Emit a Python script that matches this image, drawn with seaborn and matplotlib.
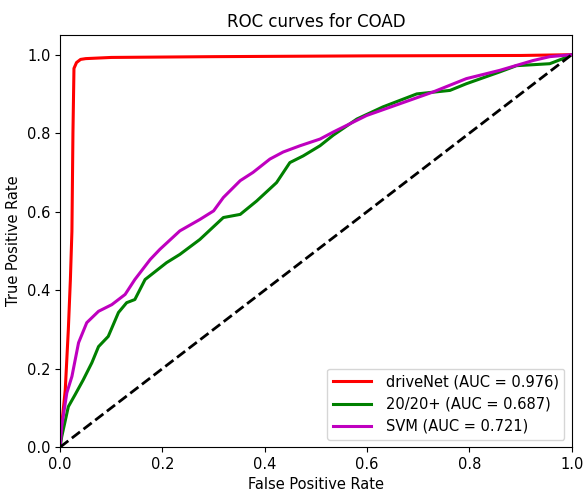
import pandas as pd
import seaborn as sns
import matplotlib
matplotlib.use('Agg')
import matplotlib.pyplot as plt

# ROC points
drivenet_fpr = [0.0, 0.002, 0.010, 0.016, 0.020, 0.023, 0.025, 0.027, 0.032, 0.04, 0.05, 0.1, 0.3, 0.6, 0.9, 1.0]
drivenet_tpr = [0.0, 0.043, 0.146, 0.30, 0.427, 0.55, 0.80, 0.965, 0.980, 0.988, 0.990, 0.993, 0.995, 0.997, 0.998, 1.0]

tt_fpr = [0.0, 0.003, 0.016, 0.029, 0.045, 0.062, 0.075, 0.094, 0.114, 0.13, 0.146, 0.166,
          0.208, 0.234, 0.273, 0.319, 0.352, 0.384, 0.423, 0.449, 0.475, 0.508, 0.534,
          0.58, 0.631, 0.697, 0.762, 0.794, 0.859, 0.892, 0.957, 0.983, 1.0]
tt_tpr = [0.0, 0.026, 0.103, 0.133, 0.171, 0.215, 0.256, 0.282, 0.343, 0.368, 0.376, 0.427,
          0.47, 0.491, 0.529, 0.585, 0.593, 0.627, 0.674, 0.725, 0.742, 0.768, 0.795,
          0.836, 0.867, 0.90, 0.909, 0.926, 0.956, 0.972, 0.977, 0.99, 1.0]

svm_fpr = [0.0, 0.003, 0.013, 0.023, 0.036, 0.052, 0.075, 0.101, 0.127, 0.146, 0.176, 0.195,
           0.234, 0.273, 0.3, 0.319, 0.352, 0.377, 0.41, 0.436, 0.469, 0.508, 0.534,
           0.599, 0.664, 0.729, 0.794, 0.859, 0.924, 0.957, 1.0]
svm_tpr = [0.0, 0.052, 0.138, 0.18, 0.266, 0.317, 0.346, 0.363, 0.389, 0.427, 0.478, 0.504,
           0.551, 0.58, 0.602, 0.636, 0.679, 0.70, 0.734, 0.752, 0.768, 0.785, 0.803,
           0.845, 0.875, 0.905, 0.939, 0.96, 0.985, 0.995, 1.0]

labels = ['driveNet (AUC = 0.976)', '20/20+ (AUC = 0.687)', 'SVM (AUC = 0.721)']
colors = ['red', 'green', 'm']

frames = []
for lab, fx, ty in zip(labels, [drivenet_fpr, tt_fpr, svm_fpr], [drivenet_tpr, tt_tpr, svm_tpr]):
    frames.append(pd.DataFrame({'fpr': fx, 'tpr': ty, 'model': lab}))
df = pd.concat(frames, ignore_index=True)

fig = plt.figure(figsize=(5.84, 4.94), dpi=100)
ax = fig.add_axes([0.103, 0.095, 0.876, 0.834])

sns.lineplot(data=df, x='fpr', y='tpr', hue='model', palette=colors,
             estimator=None, sort=False, linewidth=2.2, ax=ax)
ax.plot([0, 1], [0, 1], 'k--', linewidth=2)

ax.set_xlim(0, 1.0)
ax.set_ylim(0, 1.05)
ax.set_xticks([0, 0.2, 0.4, 0.6, 0.8, 1.0])
ax.set_yticks([0, 0.2, 0.4, 0.6, 0.8, 1.0])
ax.set_title('ROC curves for COAD', fontsize=12)
ax.set_xlabel('False Positive Rate', fontsize=10.5)
ax.set_ylabel('True Positive Rate', fontsize=10.5)
ax.tick_params(labelsize=10.5)
ax.legend(loc='lower right', fontsize=10.5, title=None, handlelength=2.6, handletextpad=1.0)

fig.savefig('out.png', dpi=100)
